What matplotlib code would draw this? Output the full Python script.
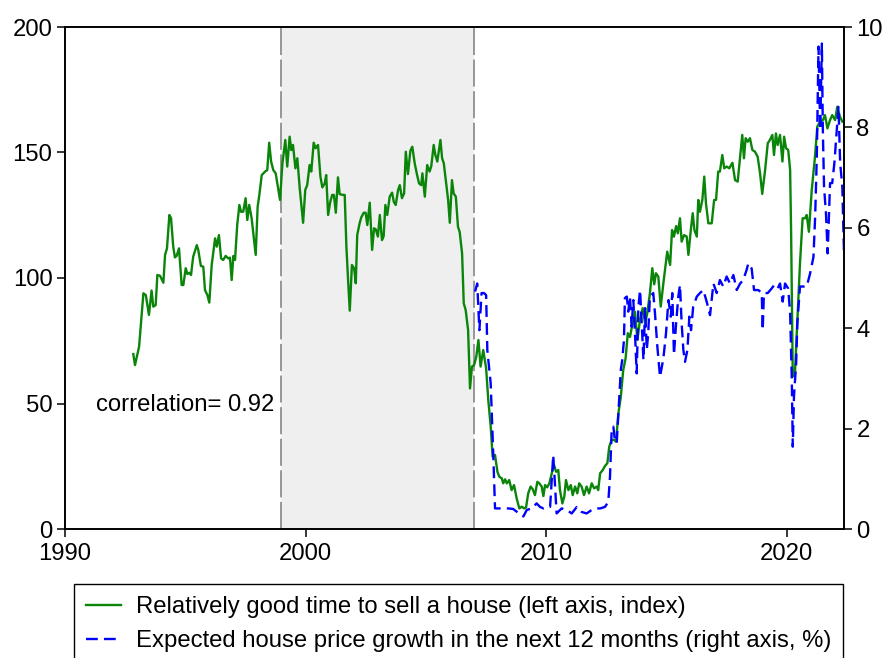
import matplotlib
matplotlib.use("Agg")
import matplotlib.pyplot as plt

plt.rcParams['font.family'] = ['Liberation Sans', 'DejaVu Sans']

# Relatively good time to sell a house (left axis, index)
green_years = [
    1992.84, 1992.91, 1993.08, 1993.26, 1993.36, 1993.49, 1993.60, 1993.67, 1993.77, 1993.84,
    1993.95, 1994.09, 1994.16, 1994.24, 1994.34, 1994.41, 1994.50, 1994.57, 1994.64, 1994.74,
    1994.85, 1994.92, 1995.02, 1995.09, 1995.17, 1995.24, 1995.33, 1995.48, 1995.54, 1995.65,
    1995.75, 1995.82, 1995.92, 1996.00, 1996.10, 1996.24, 1996.31, 1996.40, 1996.49, 1996.58,
    1996.68, 1996.79, 1996.86, 1996.93, 1997.00, 1997.07, 1997.16, 1997.25, 1997.32, 1997.41,
    1997.51, 1997.58, 1997.66, 1997.76, 1997.83, 1997.93, 1998.01, 1998.08, 1998.18, 1998.32,
    1998.41, 1998.49, 1998.57, 1998.66, 1998.76, 1998.87, 1998.94, 1999.04, 1999.16, 1999.24,
    1999.34, 1999.41, 1999.48, 1999.58, 1999.66, 1999.76, 1999.90, 1999.99, 2000.07, 2000.17,
    2000.24, 2000.34, 2000.42, 2000.52, 2000.62, 2000.70, 2000.80, 2000.86, 2000.94, 2001.03,
    2001.11, 2001.18, 2001.26, 2001.35, 2001.42, 2001.56, 2001.63, 2001.70, 2001.77, 2001.84,
    2001.93, 2002.02, 2002.09, 2002.15, 2002.25, 2002.32, 2002.42, 2002.50, 2002.57, 2002.67,
    2002.77, 2002.85, 2002.92, 2003.01, 2003.09, 2003.18, 2003.25, 2003.32, 2003.40, 2003.50,
    2003.60, 2003.67, 2003.75, 2003.85, 2003.92, 2004.01, 2004.10, 2004.17, 2004.26, 2004.36,
    2004.44, 2004.54, 2004.64, 2004.72, 2004.81, 2004.86, 2004.96, 2005.06, 2005.16, 2005.23,
    2005.33, 2005.40, 2005.48, 2005.61, 2005.68, 2005.75, 2005.85, 2005.93, 2006.00, 2006.09,
    2006.16, 2006.25, 2006.34, 2006.41, 2006.51, 2006.58, 2006.66, 2006.76, 2006.84, 2006.92,
    2007.01, 2007.10, 2007.19, 2007.28, 2007.39, 2007.51, 2007.60, 2007.70, 2007.78, 2007.88,
    2007.98, 2008.06, 2008.16, 2008.22, 2008.30, 2008.37, 2008.47, 2008.57, 2008.67, 2008.78,
    2008.89, 2008.99, 2009.09, 2009.17, 2009.26, 2009.36, 2009.45, 2009.54, 2009.64, 2009.72,
    2009.82, 2009.89, 2009.96, 2010.05, 2010.14, 2010.24, 2010.33, 2010.42, 2010.51, 2010.58,
    2010.68, 2010.76, 2010.83, 2010.93, 2011.03, 2011.11, 2011.21, 2011.30, 2011.38, 2011.48,
    2011.58, 2011.69, 2011.79, 2011.90, 2012.00, 2012.11, 2012.17, 2012.25, 2012.36, 2012.45,
    2012.55, 2012.63, 2012.73, 2012.83, 2012.91, 2013.01, 2013.11, 2013.21, 2013.31, 2013.40,
    2013.49, 2013.60, 2013.70, 2013.80, 2013.91, 2014.02, 2014.12, 2014.21, 2014.32, 2014.42,
    2014.50, 2014.57, 2014.67, 2014.77, 2014.88, 2014.98, 2015.04, 2015.16, 2015.24, 2015.32,
    2015.41, 2015.48, 2015.57, 2015.64, 2015.74, 2015.85, 2015.92, 2016.02, 2016.10, 2016.17,
    2016.27, 2016.33, 2016.40, 2016.50, 2016.58, 2016.65, 2016.75, 2016.89, 2016.99, 2017.07,
    2017.16, 2017.23, 2017.33, 2017.41, 2017.51, 2017.62, 2017.75, 2017.86, 2017.97, 2018.07,
    2018.16, 2018.23, 2018.30, 2018.39, 2018.48, 2018.58, 2018.69, 2018.80, 2018.90, 2018.99,
    2019.11, 2019.22, 2019.31, 2019.41, 2019.48, 2019.56, 2019.63, 2019.73, 2019.83, 2019.90,
    2019.98, 2020.07, 2020.15, 2020.19, 2020.23, 2020.26, 2020.35, 2020.42, 2020.56, 2020.67,
    2020.77, 2020.84, 2020.93, 2021.05, 2021.19, 2021.28, 2021.39, 2021.51, 2021.60, 2021.70,
    2021.81, 2021.90, 2022.02, 2022.11, 2022.22, 2022.32,
]
green_values = [
    69.7, 65.3, 72.6, 93.9, 93.2, 85.3, 95.0, 88.6, 89.2, 101.2,
    100.9, 98.1, 109.2, 111.8, 125.1, 123.8, 112.5, 108.2, 108.8, 111.8,
    97.2, 97.2, 103.9, 101.6, 102.1, 101.2, 108.5, 113.1, 111.2, 104.8,
    104.5, 95.2, 93.2, 90.2, 105.2, 115.8, 112.5, 117.1, 107.8, 107.2,
    108.8, 107.8, 108.1, 99.2, 108.8, 107.2, 121.1, 129.1, 126.4, 126.4,
    131.8, 123.1, 129.1, 123.8, 117.8, 109.2, 128.4, 133.1, 141.0, 142.4,
    143.0, 153.9, 146.4, 143.0, 141.7, 135.1, 131.1, 145.7, 155.0, 144.4,
    156.3, 151.0, 153.0, 143.7, 147.7, 135.7, 122.0, 135.1, 137.0, 145.0,
    142.4, 153.9, 151.7, 153.0, 140.4, 136.1, 137.7, 141.0, 125.1, 130.4,
    133.1, 133.1, 126.0, 140.1, 133.4, 133.1, 133.1, 112.5, 99.2, 87.0,
    105.2, 103.9, 97.9, 117.1, 121.8, 124.2, 126.0, 126.0, 121.1, 130.0,
    111.2, 119.8, 119.4, 116.5, 125.1, 115.1, 116.7, 129.1, 125.1, 132.4,
    134.0, 130.4, 129.1, 135.1, 137.0, 131.8, 133.7, 150.3, 141.4, 150.7,
    152.3, 145.7, 141.0, 137.7, 137.0, 141.7, 132.4, 145.0, 142.4, 144.6,
    153.0, 149.0, 146.4, 155.0, 147.7, 145.7, 137.7, 131.1, 122.0, 139.0,
    133.7, 132.4, 120.4, 118.4, 109.8, 89.9, 87.2, 79.3, 56.0, 64.7,
    65.3, 68.6, 75.3, 64.7, 71.3, 64.0, 51.4, 40.8, 28.8, 29.5,
    22.8, 20.8, 20.2, 18.2, 19.8, 18.2, 19.5, 15.5, 17.5, 12.2,
    8.2, 8.9, 8.2, 8.6, 14.2, 16.9, 15.8, 13.5, 18.8, 18.2,
    16.9, 13.1, 17.5, 16.6, 18.2, 22.2, 25.5, 22.8, 23.5, 15.5,
    10.2, 12.9, 19.5, 15.5, 17.5, 13.5, 16.9, 14.2, 18.2, 16.9,
    13.5, 16.9, 14.2, 18.2, 16.2, 16.9, 15.5, 22.2, 23.5, 25.1,
    26.2, 32.8, 35.5, 35.5, 34.8, 46.1, 52.7, 63.3, 68.0, 78.0,
    76.5, 82.0, 86.5, 75.3, 83.5, 88.0, 82.0, 86.0, 93.9, 103.9,
    97.5, 101.9, 100.5, 88.6, 97.9, 105.9, 110.5, 105.2, 119.1, 116.5,
    120.7, 117.8, 123.8, 114.5, 117.1, 116.5, 109.2, 119.1, 125.8, 119.1,
    116.5, 131.1, 126.4, 131.1, 140.4, 129.8, 121.8, 121.8, 131.1, 131.1,
    142.4, 142.4, 149.0, 143.7, 144.4, 143.7, 145.9, 139.0, 138.4, 148.3,
    157.0, 147.7, 155.7, 154.3, 155.7, 151.0, 150.3, 148.3, 141.7, 133.5,
    143.0, 153.7, 155.0, 157.0, 149.0, 157.6, 153.0, 157.0, 146.4, 156.3,
    151.7, 151.0, 143.0, 119.1, 85.9, 60.7, 62.0, 76.6, 105.9, 123.8,
    123.8, 125.1, 118.4, 135.1, 149.0, 160.3, 162.3, 162.9, 164.9, 159.6,
    162.9, 164.9, 162.9, 168.2, 164.3, 162.3,
]

# Expected house price growth in the next 12 months (right axis, %)
blue_years = [
    2007.05, 2007.14, 2007.23, 2007.32, 2007.42, 2007.51, 2007.56, 2007.64, 2007.70, 2007.74,
    2007.81, 2007.88, 2007.95, 2008.43, 2008.63, 2008.85, 2009.06, 2009.20, 2009.41, 2009.61,
    2009.75, 2009.89, 2010.03, 2010.17, 2010.30, 2010.37, 2010.44, 2010.65, 2010.86, 2011.07,
    2011.28, 2011.48, 2011.69, 2011.90, 2012.11, 2012.25, 2012.45, 2012.59, 2012.66, 2012.73,
    2012.80, 2012.87, 2012.94, 2013.01, 2013.11, 2013.17, 2013.24, 2013.28, 2013.36, 2013.42,
    2013.49, 2013.56, 2013.63, 2013.70, 2013.77, 2013.84, 2013.91, 2013.98, 2014.05, 2014.12,
    2014.19, 2014.25, 2014.32, 2014.39, 2014.46, 2014.53, 2014.63, 2014.74, 2014.88, 2014.99,
    2015.09, 2015.19, 2015.25, 2015.32, 2015.41, 2015.50, 2015.57, 2015.64, 2015.71, 2015.78,
    2015.88, 2015.96, 2016.03, 2016.12, 2016.27, 2016.40, 2016.54, 2016.68, 2016.82, 2016.96,
    2017.10, 2017.23, 2017.37, 2017.51, 2017.65, 2017.79, 2017.93, 2018.07, 2018.20, 2018.34,
    2018.41, 2018.55, 2018.65, 2018.83, 2018.97, 2019.01, 2019.06, 2019.22, 2019.38, 2019.49,
    2019.63, 2019.73, 2019.84, 2019.94, 2020.07, 2020.15, 2020.22, 2020.26, 2020.31, 2020.40,
    2020.45, 2020.56, 2020.73, 2020.84, 2020.98, 2021.12, 2021.19, 2021.26, 2021.33, 2021.40,
    2021.47, 2021.51, 2021.56, 2021.64, 2021.71, 2021.81, 2021.90, 2021.99, 2022.09, 2022.16,
    2022.23, 2022.32, 2022.39,
]
blue_values = [
    4.73, 4.89, 3.96, 4.70, 4.70, 4.66, 3.56, 3.17, 2.90, 2.37,
    1.44, 0.41, 0.41, 0.41, 0.40, 0.32, 0.25, 0.38, 0.41, 0.51,
    0.44, 0.41, 0.44, 0.44, 1.47, 0.91, 0.31, 0.41, 0.38, 0.31,
    0.44, 0.34, 0.31, 0.38, 0.41, 0.41, 0.44, 0.54, 1.04, 1.97,
    2.04, 1.74, 1.71, 2.30, 3.17, 3.37, 3.76, 4.60, 4.63, 4.33,
    4.63, 4.03, 4.56, 3.90, 3.10, 4.43, 4.76, 4.10, 3.37, 4.40,
    3.57, 3.90, 4.63, 4.66, 4.70, 4.30, 3.63, 3.03, 3.40, 3.90,
    4.56, 4.23, 4.70, 3.47, 4.10, 4.63, 4.86, 4.10, 3.57, 3.33,
    3.57, 4.23, 3.96, 4.43, 4.63, 4.70, 4.76, 4.53, 4.26, 4.89,
    4.70, 4.96, 4.83, 5.03, 4.89, 5.06, 4.76, 4.89, 4.96, 5.16,
    5.29, 5.19, 4.76, 4.76, 4.70, 3.96, 4.70, 4.70, 4.79, 4.86,
    4.79, 4.89, 4.53, 4.89, 4.79, 4.30, 2.97, 1.64, 2.64, 3.30,
    4.10, 4.83, 4.83, 4.83, 5.09, 5.42, 6.22, 7.42, 9.61, 7.95,
    9.67, 7.95, 6.82, 6.29, 5.49, 6.89, 6.89, 7.29, 7.95, 8.41,
    7.29, 6.82, 5.50,
]

shade_start, shade_end = 1999.0, 2007.0
x_ticks = [1990, 2000, 2010, 2020]
left_ticks = [0, 50, 100, 150, 200]
right_ticks = [0, 2, 4, 6, 8, 10]
label_green = "Relatively good time to sell a house (left axis, index)"
label_blue = "Expected house price growth in the next 12 months (right axis, %)"
annotation = "correlation= 0.92"

FS = 17.2

fig = plt.figure(figsize=(8.87, 6.58), dpi=100)
ax = fig.add_axes([65 / 887, 1 - 529 / 658, (844 - 65) / 887, (529 - 27) / 658])
ax2 = ax.twinx()

ax.axvspan(shade_start, shade_end, color='#efefef', zorder=0, lw=0)
for xv in (shade_start, shade_end):
    ax.axvline(xv, color='#8f8f8f', lw=1.3, dashes=(15, 2.5), zorder=1)

l1, = ax.plot(green_years, green_values, color='#0a850a', lw=1.7, zorder=3, label=label_green)
l2, = ax2.plot(blue_years, blue_values, color='#0000ff', lw=1.7, dashes=(5, 2.6), label=label_blue)

ax.set_xlim(1990, 2022.39)
ax.set_ylim(0, 200)
ax2.set_ylim(0, 10)
ax.set_xticks(x_ticks)
ax.set_yticks(left_ticks)
ax2.set_yticks(right_ticks)

for a in (ax, ax2):
    a.tick_params(labelsize=FS, length=6, width=1.1, direction='out', pad=3, colors='black')
    for s in a.spines.values():
        s.set_linewidth(1.2)
        s.set_color('black')
ax.tick_params(axis='x', pad=4)

ax.text(1991.28, 49.5, annotation, fontsize=FS, ha='left', va='center', zorder=4)

leg = fig.legend([l1, l2], [label_green, label_blue], loc='upper left',
                 bbox_to_anchor=(74 / 887, 1 - 584 / 658), fontsize=FS,
                 frameon=True, fancybox=False, edgecolor='black', framealpha=1,
                 handlelength=1.45, handletextpad=0.65, borderpad=0.5,
                 labelspacing=0.5, borderaxespad=0)
leg.get_frame().set_linewidth(1.0)

fig.savefig("out.png", dpi=100)
